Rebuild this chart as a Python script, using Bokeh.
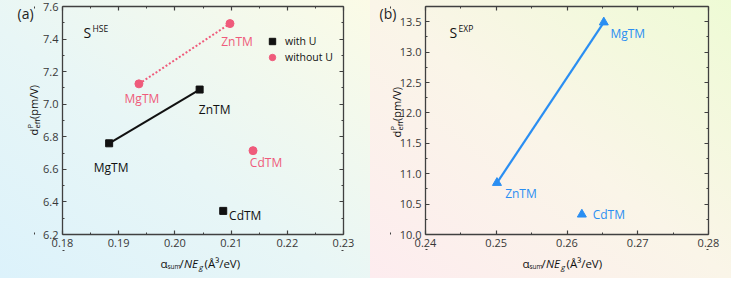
from bokeh.plotting import figure
from bokeh.models import (ColumnDataSource, Label, Legend, LegendItem, LinearAxis,
                          FixedTicker, NumeralTickFormatter, CustomJSTickFormatter, Range1d)
from bokeh.layouts import row
from bokeh.core.properties import value
from bokeh.embed import file_html
from bokeh.resources import INLINE
import math

FONT = "Open Sans"

# ---------------- data ----------------
materials = ["MgTM", "ZnTM", "CdTM"]
# panel (a): S^HSE
a_x_withU = [0.1883, 0.2044, 0.2086]
a_y_withU = [6.760, 7.090, 6.345]
a_x_noU = [0.1936, 0.2098, 0.2139]
a_y_noU = [7.125, 7.495, 6.715]
# panel (b): S^EXP
b_x = [0.2652, 0.2501, 0.2621]
b_y = [13.49, 10.85, 10.33]

a_xticks = [0.18, 0.19, 0.20, 0.21, 0.22, 0.23]
a_yticks = [6.2, 6.4, 6.6, 6.8, 7.0, 7.2, 7.4, 7.6]
b_xticks = [0.24, 0.25, 0.26, 0.27, 0.28]
b_yticks = [10.0, 10.5, 11.0, 11.5, 12.0, 12.5, 13.0, 13.5]
b_ymax = 13.75

# ---------------- styling ----------------
BLACK = "#111111"
PINK = "#ef5b7b"
BLUE = "#2a8ef2"
AXC = "#404040"
TXT = "#383838"
H = 278


def minors(t):
    step = t[1] - t[0]
    return [t[0] - step / 2] + [a + (b - a) / 2 for a, b in zip(t[:-1], t[1:])] + [t[-1] + step / 2]


def style_axis(ax, ticks, fmt, labels=True):
    ax.ticker = FixedTicker(ticks=ticks, minor_ticks=minors(ticks))
    ax.axis_line_color = AXC
    ax.axis_line_width = 1.3
    ax.major_tick_line_color = AXC
    ax.minor_tick_line_color = AXC
    ax.major_tick_line_width = 1.2
    ax.minor_tick_line_width = 1.0
    ax.major_tick_in = 4
    ax.major_tick_out = 0
    ax.minor_tick_in = 2
    ax.minor_tick_out = 0
    if labels:
        ax.formatter = NumeralTickFormatter(format=fmt)
        ax.major_label_text_font = FONT
        ax.major_label_text_font_size = "11px"
        ax.major_label_text_color = TXT
        ax.major_label_standoff = 4
    else:
        ax.formatter = CustomJSTickFormatter(code="return ''")
        ax.major_label_text_font_size = "1px"
        ax.major_label_standoff = 0


def make_fig(W, box, xlim, ylim, xt, yt, xf, yf, bg):
    """box = pixel position (left, right, top, bottom) of the axes box inside the figure."""
    L, R, T, B = box
    x0, x1 = xlim
    y0, y1 = ylim
    sx = (x1 - x0) / (R - L)
    sy = (y1 - y0) / (B - T)
    p = figure(width=W, height=H,
               x_range=Range1d(x0 - L * sx, x1 + (W - R) * sx),
               y_range=Range1d(y0 - (H - B) * sy, y1 + T * sy),
               x_axis_location=None, y_axis_location=None,
               output_backend="svg", toolbar_location=None, min_border=0)
    p.grid.visible = False
    p.border_fill_color = None
    p.background_fill_color = None
    p.outline_line_color = None
    p.styles = {"background": bg}
    for place, ticks, fmt, loc, bounds, lab in [
        ("below", xt, xf, y0, (x0, x1), True),
        ("left", yt, yf, x0, (y0, y1), True),
        ("above", xt, xf, y1, (x0, x1), False),
        ("right", yt, yf, x1, (y0, y1), False),
    ]:
        ax = LinearAxis(fixed_location=loc, bounds=bounds)
        style_axis(ax, ticks, fmt, labels=lab)
        p.add_layout(ax, place)
    return p


def put(p, txt, px, py, size=12, color=BLACK, angle=0.0, style="normal",
        align="left", baseline="middle"):
    # px, py: pixel position inside the figure (origin top-left)
    p.add_layout(Label(x=p.x_range.start, y=p.y_range.start, x_offset=px, y_offset=H - py,
                       text=txt, text_font=FONT, text_font_size=f"{size}px", text_color=color,
                       angle=angle, text_align=align, text_baseline=baseline,
                       text_font_style=style))


def xlabel(p, x0, y0):
    put(p, "α", x0, y0, 11.5)
    put(p, "sum", x0 + 7, y0 + 3, 6.5)
    put(p, "/", x0 + 19, y0, 11.5)
    put(p, "NE", x0 + 23.5, y0, 11.5, style="italic")
    put(p, "g", x0 + 38.5, y0 + 3, 8, style="italic")
    put(p, "(Å³/eV)", x0 + 44, y0, 11.5)


def ylabel(p, xc, y0):
    a = math.pi / 2
    put(p, "d", xc, y0, 11, angle=a)
    put(p, "P", xc - 4, y0 - 7, 7.5, angle=a)
    put(p, "eff", xc + 3.5, y0 - 7, 7.5, angle=a)
    put(p, "(pm/V)", xc, y0 - 16.5, 11, angle=a)


# ---------------- panel (a) ----------------
pa = make_fig(370, (62, 343, 6, 234), (a_xticks[0], a_xticks[-1]), (a_yticks[0], a_yticks[-1]),
              a_xticks, a_yticks, "0.00", "0.0",
              "linear-gradient(to top right, #dcf2fb 0%, #e8f6f6 45%, #fbfbe6 100%)")

pa.line(a_x_withU[:2], a_y_withU[:2], line_color=BLACK, line_width=2)
pa.line(a_x_noU[:2], a_y_noU[:2], line_color=PINK, line_width=2, line_dash="2 2")
rw = pa.scatter(a_x_withU, a_y_withU, marker="square", size=7, fill_color=BLACK, line_color=BLACK)
rn = pa.scatter(a_x_noU, a_y_noU, marker="circle", size=8, fill_color=PINK, line_color=PINK)

src_aw = ColumnDataSource(dict(x=a_x_withU, y=a_y_withU, t=materials,
                               dx=[2, 15, 22], dy=[24, 20, 5]))
src_an = ColumnDataSource(dict(x=a_x_noU, y=a_y_noU, t=materials,
                               dx=[3, 7, 13], dy=[15, 18, 12]))
pa.text(x="x", y="y", text="t", source=src_aw, x_offset="dx", y_offset="dy",
        text_align="center", text_baseline="middle", text_font=value(FONT),
        text_font_size="12px", text_color=BLACK)
pa.text(x="x", y="y", text="t", source=src_an, x_offset="dx", y_offset="dy",
        text_align="center", text_baseline="middle", text_font=value(FONT),
        text_font_size="12px", text_color=PINK)

leg = Legend(items=[LegendItem(label="with U", renderers=[rw]),
                    LegendItem(label="without U", renderers=[rn])],
             location=(264, H - 65), glyph_width=16, glyph_height=16, label_height=16,
             label_standoff=5, spacing=-2, padding=0, margin=0,
             border_line_color=None, background_fill_color=None,
             label_text_font=FONT, label_text_font_size="10.5px", label_text_color=BLACK)
pa.add_layout(leg)

put(pa, "(a)", 17, 13, 14, color="#222222")
put(pa, "S", 83, 32, 14)
put(pa, "HSE", 92, 28, 8.5)
xlabel(pa, 160, 263)
ylabel(pa, 33, 135)

# ---------------- panel (b) ----------------
pb = make_fig(361, (55, 338, 6, 234), (b_xticks[0], b_xticks[-1]), (b_yticks[0], b_ymax),
              b_xticks, b_yticks, "0.00", "0.0",
              "linear-gradient(to top right, #fdecef 0%, #faf5e8 50%, #eefbd5 100%)")

pb.line(b_x[:2], b_y[:2], line_color=BLUE, line_width=2.2)
pb.scatter(b_x, b_y, marker="triangle", size=9, fill_color=BLUE, line_color=BLUE)
src_b = ColumnDataSource(dict(x=b_x, y=b_y, t=materials, dx=[24, 24, 27], dy=[11, 11, 0]))
pb.text(x="x", y="y", text="t", source=src_b, x_offset="dx", y_offset="dy",
        text_align="center", text_baseline="middle", text_font=value(FONT),
        text_font_size="12px", text_color=BLUE)

put(pb, "(b)", 9, 13, 14, color="#222222")
put(pb, "S", 79, 32, 14)
put(pb, "EXP", 88, 28, 8.5)
xlabel(pb, 152, 263)
ylabel(pb, 26, 137)

layout = row(pa, pb)
open("out.html", "w").write(file_html(layout, INLINE))
